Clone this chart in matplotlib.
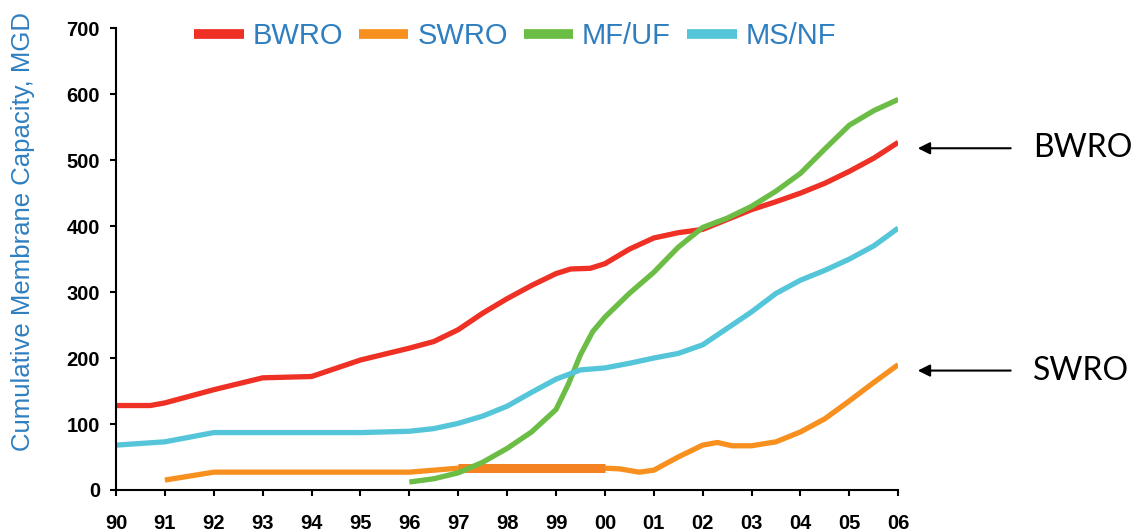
import numpy as np
import matplotlib.pyplot as plt

# values (MGD)
bwro_x = [1990, 1990.7, 1991, 1992, 1993, 1994, 1995, 1996, 1996.5, 1997, 1997.5, 1998, 1998.5,
          1999, 1999.3, 1999.7, 2000, 2000.5, 2001, 2001.5, 2002, 2002.5, 2003, 2003.5, 2004,
          2004.5, 2005, 2005.5, 2006]
bwro_y = [128, 128, 132, 152, 170, 172, 197, 215, 225, 243, 268, 290, 310,
          328, 335, 336, 343, 365, 382, 390, 395, 410, 425, 437, 450,
          465, 483, 503, 527]

swro_x = [1991, 1992, 1993, 1994, 1995, 1996, 1997, 1998, 1999, 2000, 2000.3, 2000.7, 2001,
          2001.5, 2002, 2002.3, 2002.6, 2003, 2003.5, 2004, 2004.5, 2005, 2005.5, 2006]
swro_y = [15, 27, 27, 27, 27, 27, 33, 33, 33, 33, 32, 27, 30,
          50, 68, 72, 67, 67, 73, 88, 108, 135, 163, 190]
# the heavier stretch of the SWRO line
swro_bold_x = [1997, 2000]
swro_bold_y = [33, 33]

mfuf_x = [1996, 1996.5, 1997, 1997.5, 1998, 1998.5, 1999, 1999.25, 1999.5, 1999.75, 2000,
          2000.5, 2001, 2001.5, 2002, 2002.5, 2003, 2003.5, 2004, 2004.5, 2005, 2005.5, 2006]
mfuf_y = [12, 17, 26, 42, 63, 88, 122, 160, 205, 240, 262,
          298, 330, 368, 398, 412, 430, 453, 480, 517, 553, 575, 592]

msnf_x = [1990, 1991, 1992, 1993, 1994, 1995, 1996, 1996.5, 1997, 1997.5, 1998, 1998.5, 1999,
          1999.5, 2000, 2000.5, 2001, 2001.5, 2002, 2002.5, 2003, 2003.5, 2004, 2004.5, 2005,
          2005.5, 2006]
msnf_y = [68, 73, 87, 87, 87, 87, 89, 93, 101, 112, 127, 148, 168,
          182, 185, 192, 200, 207, 220, 245, 270, 298, 318, 333, 350,
          370, 397]

years = list(range(1990, 2007))
year_labels = ['90', '91', '92', '93', '94', '95', '96', '97', '98', '99',
               '00', '01', '02', '03', '04', '05', '06']

RED = '#ee3124'
ORANGE = '#f7901e'
GREEN = '#6cbd45'
CYAN = '#55c5da'
BLUE = '#2f7fc0'

plt.rcParams['font.family'] = ['Liberation Sans', 'DejaVu Sans']

fig = plt.figure(figsize=(11.32, 5.32), dpi=100)
ax = fig.add_axes([0.1025, 0.079, 0.691, 0.868])

lw = 3.8
ax.plot(bwro_x, bwro_y, color=RED, lw=lw, label='BWRO', solid_capstyle='butt')
ax.plot(swro_x, swro_y, color=ORANGE, lw=lw, label='SWRO', solid_capstyle='butt')
ax.plot(swro_bold_x, swro_bold_y, color='#f58220', lw=6.5, solid_capstyle='butt')
ax.plot(mfuf_x, mfuf_y, color=GREEN, lw=lw, label='MF/UF', solid_capstyle='butt')
ax.plot(msnf_x, msnf_y, color=CYAN, lw=lw, label='MS/NF', solid_capstyle='butt')

ax.set_xlim(1990, 2006)
ax.set_ylim(0, 700)
ax.set_xticks(years)
ax.set_xticklabels(year_labels)
ax.set_yticks(range(0, 701, 100))
ax.tick_params(axis='both', direction='out', length=4.5, width=1.5, labelsize=14.5,
               colors='black')
ax.tick_params(axis='y', pad=7)
ax.tick_params(axis='x', pad=13)
for lab in ax.get_xticklabels() + ax.get_yticklabels():
    lab.set_fontweight('bold')
for s in ['top', 'right']:
    ax.spines[s].set_visible(False)
for s in ['left', 'bottom']:
    ax.spines[s].set_linewidth(1.5)

ax.set_ylabel('Cumulative Membrane Capacity, MGD', color=BLUE, fontsize=18.5)
ax.yaxis.set_label_coords(-0.104, 0.56)

leg = ax.legend(loc='upper center', bbox_to_anchor=(0.51, 1.07), ncol=4, frameon=False,
                fontsize=21, handlelength=1.7, handletextpad=0.3, columnspacing=0.55,
                labelcolor=BLUE)
for h in leg.get_lines():
    h.set_linewidth(7)

# callouts on the right
for label, yv in [('BWRO', 518), ('SWRO', 181)]:
    ax.annotate('', xy=(2006.4, yv), xytext=(2008.3, yv), annotation_clip=False,
                arrowprops=dict(arrowstyle='-|>', color='black', lw=1.5,
                                mutation_scale=18, shrinkA=0, shrinkB=0))
    ax.text(2008.75, yv, label, fontsize=23, family=['Lato', 'DejaVu Sans'],
            va='center', ha='left', clip_on=False)

fig.savefig('out.png', dpi=100)
